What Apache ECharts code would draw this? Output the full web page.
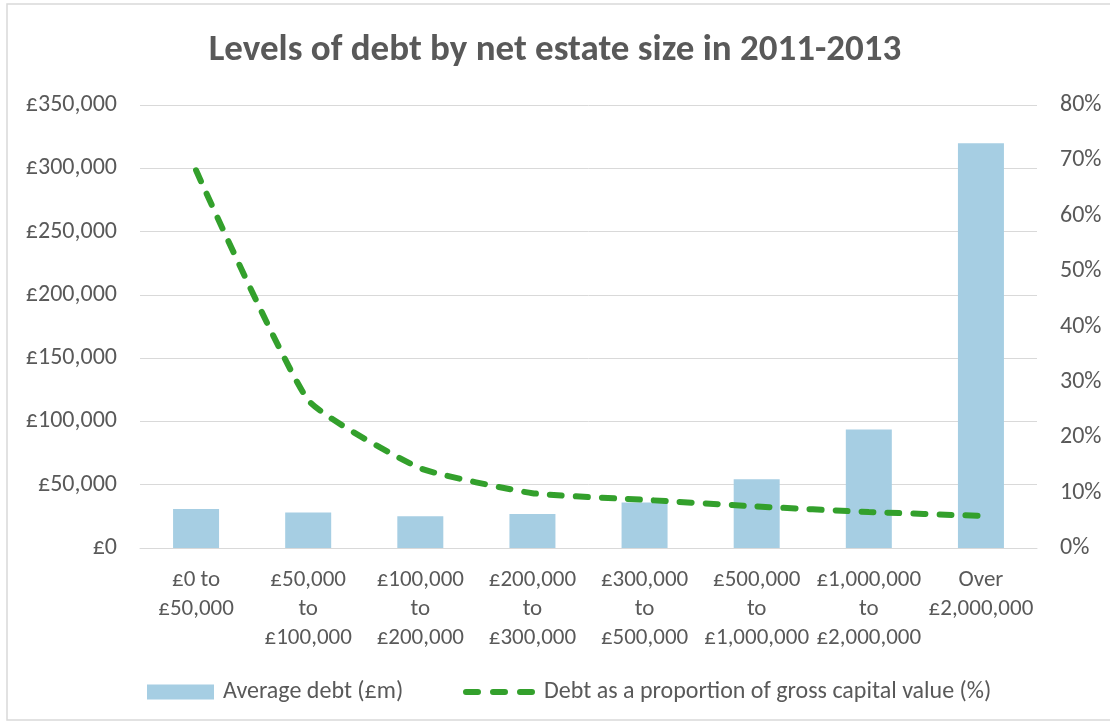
<!DOCTYPE html>
<html>
<head>
<meta charset="utf-8">
<script src="https://cdn.jsdelivr.net/npm/echarts@6/dist/echarts.min.js"></script>
<style>
html,body{margin:0;padding:0;background:#fff;}
#c{width:1110px;height:726px;}
</style>
</head>
<body>
<div id="c"></div>
<script>
const categories = ["£0 to\n£50,000", "£50,000\nto\n£100,000", "£100,000\nto\n£200,000", "£200,000\nto\n£300,000", "£300,000\nto\n£500,000", "£500,000\nto\n£1,000,000", "£1,000,000\nto\n£2,000,000", "Over\n£2,000,000"];
const averageDebt = [30800, 28100, 25000, 26900, 36000, 54300, 93700, 319700];
const debtProportion = [68.2, 26.7, 14.4, 9.9, 8.7, 7.5, 6.5, 5.8];
const leftTicks = [0, 50000, 100000, 150000, 200000, 250000, 300000, 350000];
const rightTicks = [0, 10, 20, 30, 40, 50, 60, 70, 80];
const seriesNames = ["Average debt (£m)", "Debt as a proportion of gross capital value (%)"];
const titleText = "Levels of debt by net estate size in 2011-2013";

const FONT = "Carlito, Calibri, 'Open Sans', sans-serif";
const TXT = '#595959';
const GREEN = '#33a02c';
const chart = echarts.init(document.getElementById('c'), null, {renderer: 'canvas'});
chart.setOption({
  backgroundColor: '#fff',
  animation: false,
  textStyle: {fontFamily: FONT},
  graphic: [{
    type: 'rect', shape: {x: 7, y: 4, width: 1110, height: 716},
    style: {fill: 'none', stroke: '#d9d9d9', lineWidth: 1.5}, silent: true
  }],
  title: {
    text: titleText, left: 'center', top: 27,
    textStyle: {fontFamily: FONT, fontSize: 37, fontWeight: 'bold', color: TXT}
  },
  legend: [{
    left: 142, top: 675, itemWidth: 67, itemHeight: 15, icon: 'rect',
    textStyle: {fontFamily: FONT, fontSize: 24, color: TXT, padding: [0, 0, 0, 4]},
    data: [seriesNames[0]]
  }, {
    left: 458, top: 675, itemWidth: 72, itemHeight: 6,
    icon: 'path://M3,0 L15,0 A3,3 0 0 1 15,6 L3,6 A3,3 0 0 1 3,0 Z M30,0 L42,0 A3,3 0 0 1 42,6 L30,6 A3,3 0 0 1 30,0 Z M57,0 L69,0 A3,3 0 0 1 69,6 L57,6 A3,3 0 0 1 57,0 Z',
    textStyle: {fontFamily: FONT, fontSize: 24, color: TXT, padding: [0, 0, 0, 4]},
    data: [{name: seriesNames[1], itemStyle: {color: GREEN}}]
  }],
  grid: {left: 140, right: 73, top: 105, bottom: 178, containLabel: false},
  xAxis: {
    type: 'category', data: categories,
    axisLine: {show: true, lineStyle: {color: '#d9d9d9'}},
    axisTick: {show: false},
    axisLabel: {fontFamily: FONT, fontSize: 23, color: TXT, lineHeight: 29, margin: 18, interval: 0}
  },
  yAxis: [{
    type: 'value', min: leftTicks[0], max: leftTicks[leftTicks.length - 1], interval: 50000,
    axisLine: {show: false}, axisTick: {show: false},
    splitLine: {lineStyle: {color: '#d9d9d9'}},
    axisLabel: {fontFamily: FONT, fontSize: 24, color: TXT, margin: 23,
      formatter: v => '£' + v.toLocaleString('en-GB')}
  }, {
    type: 'value', min: rightTicks[0], max: rightTicks[rightTicks.length - 1], interval: 10,
    axisLine: {show: false}, axisTick: {show: false}, splitLine: {show: false},
    axisLabel: {fontFamily: FONT, fontSize: 24, color: TXT, margin: 23,
      formatter: v => v + '%'}
  }],
  series: [{
    name: seriesNames[0], type: 'bar', data: averageDebt, barWidth: 46,
    itemStyle: {color: '#a6cee3'}
  }, {
    name: seriesNames[1], type: 'line', yAxisIndex: 1, data: debtProportion,
    symbol: 'none', smooth: 0.15,
    lineStyle: {color: GREEN, width: 6, type: [12, 14], cap: 'round'},
    itemStyle: {color: GREEN}
  }]
});
</script>
</body>
</html>
